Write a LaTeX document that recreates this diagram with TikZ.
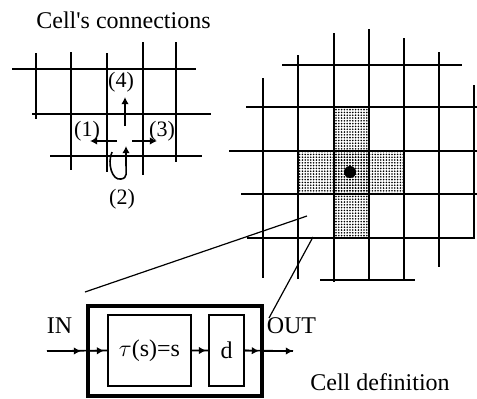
\documentclass[tikz,border=0pt]{standalone}
\usepackage{fontspec}
\setmainfont{Liberation Serif}
\usetikzlibrary{arrows.meta,patterns.meta}

\tikzset{
  gridline/.style={line width=1pt},
  sig/.style={line width=0.8pt,-{Latex[length=3.6pt,width=3.8pt]}},
  block/.style={draw,line width=0.9pt,inner sep=0pt,minimum height=35.5pt,font=\fontsize{12}{14}\selectfont},
  cellshade/.style={pattern={Dots[distance=1.4pt,radius=0.45pt]}},
  lbl/.style={font=\fontsize{11}{13}\selectfont,inner sep=0pt},
  txt/.style={font=\fontsize{12}{14}\selectfont,inner sep=0pt},
}

\begin{document}
\begin{tikzpicture}[x=0.5pt,y=-0.5pt]
        \useasboundingbox (0,0) rectangle (477,398);

        % Cell's connections (small grid)
        \node[txt,anchor=base] (title) at (123.5,28) {Cell\textquotesingle s connections};
        \foreach \x/\a/\b in {36/53/119, 71/52/170, 107/53/172, 143/42/175, 176/42/162}
            \draw[gridline] (\x,\a) -- (\x,\b);
        \foreach \y/\a/\b in {69/12/196, 114/32/211, 156/50/202}
            \draw[gridline] (\a,\y) -- (\b,\y);

        % Neighbour arrows
        \draw[sig] (125,126) -- (125,97);
        \draw[sig] (117,141) -- (90,141);
        \draw[sig] (132,141) -- (157,141);
        \draw[sig] (112,152) .. controls (107,163) and (112,181) .. (121,179)
            .. controls (128,178) and (126,172) .. (126,165) -- (126,146);
        \node[lbl] (n4) at (121,82) {(4)};
        \node[lbl] (n1) at (87,131) {(1)};
        \node[lbl] (n3) at (162,131) {(3)};
        \node[lbl] (n2) at (122,199) {(2)};

        % Big grid with shaded neighbourhood
        \fill[cellshade] (334,107) rectangle (369,238);
        \fill[cellshade] (298,151) rectangle (404,194);
        \foreach \x/\a/\b in {263/78/278, 298/55/279, 334/33/282, 369/29/280, 404/38/280, 439/52/267}
            \draw[gridline] (\x,\a) -- (\x,\b);
        \foreach \y/\a/\b in {65/282/462, 107/246/477, 151/229/477, 194/241/477, 280/320/415}
            \draw[gridline] (\a,\y) -- (\b,\y);
        \draw[gridline] (247,238) -- (474,238) -- (474,85);
        \fill (350,172) circle (3pt);

        % Cell definition
        \node[draw,line width=2pt,inner sep=0pt,minimum width=87pt,minimum height=45pt] (cell) at (175,351) {};
        \node[block,minimum width=41.5pt] (rule) at (149.5,350.5) {$\tau$(s)=s};
        \node[block,minimum width=17.5pt] (delay) at (226.5,350.5) {d};
        \node[txt,anchor=base] (inlbl) at (59.5,333) {IN};
        \node[txt,anchor=base] (outlbl) at (291.5,333) {OUT};
        \node[txt,anchor=base] (deflbl) at (380,390) {Cell definition};

        \coordinate (in) at (47,351);
        \coordinate (out) at (293,351);
        \draw[line width=0.8pt] (in) -- (rule.west) (rule.east) -- (delay.west) (delay.east) -- (out);
        \draw[sig,shorten >=2.5pt] (in) -- (cell.west);
        \draw[sig,shorten >=1.5pt] (cell.west) -- (rule.west);
        \draw[sig,shorten >=1pt] (rule.east) -- (delay.west);
        \draw[sig,shorten >=2.5pt] (delay.east) -- (cell.east);
        \draw[sig] (cell.east) -- (out);

        % Zoom lines
        \coordinate (z1) at (307,216);
        \coordinate (z2) at (313,237);
        \draw[line width=0.6pt] (z1) -- ([xshift=-0.5pt,yshift=6pt]cell.north west);
        \draw[line width=0.6pt] (z2) -- ([xshift=2.5pt,yshift=-7pt]cell.north east);
    \end{tikzpicture}
\end{document}
